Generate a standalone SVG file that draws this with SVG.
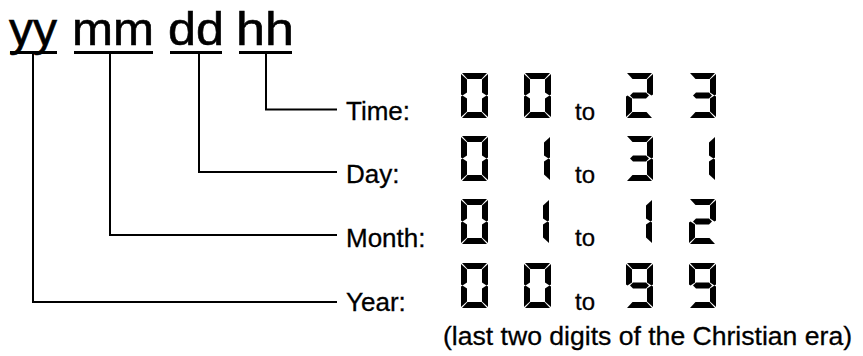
<svg xmlns="http://www.w3.org/2000/svg" width="863" height="356" viewBox="0 0 863 356">
<style>
.hdr{font-family:"Liberation Sans",Arial,sans-serif;font-size:47px;fill:#000;stroke:#000;stroke-width:0.6}
.lbl{font-family:"Liberation Sans",Arial,sans-serif;font-size:26px;fill:#000;stroke:#000;stroke-width:0.3}
.to{font-family:"Liberation Sans",Arial,sans-serif;font-size:24px;fill:#000;stroke:#000;stroke-width:0.3}
.note{font-family:"Liberation Sans",Arial,sans-serif;font-size:26.5px;fill:#000;stroke:#000;stroke-width:0.3}
.ul{stroke:#000;stroke-width:3;fill:none}
.conn{stroke:#000;stroke-width:2;fill:none}
.seg{fill:#000}
</style>
<defs>
<polygon id="sa" class="seg" points="1,0 26,0 20.5,6 6.5,6"/>
<polygon id="sb" class="seg" points="27,1 27,21.5 25.5,22.5 21,19.5 21,6.5"/>
<polygon id="sc" class="seg" points="27,23.5 27,44 21,38.5 21,25.5 25.5,22.5"/>
<polygon id="sd" class="seg" points="6.5,39 20.5,39 26,45 1,45"/>
<polygon id="se" class="seg" points="0,23.5 1.5,22.5 6,25.5 6,38.5 0,44"/>
<polygon id="sf" class="seg" points="0,1 6,6.5 6,19.5 1.5,22.5 0,21.5"/>
<polygon id="sg" class="seg" points="4,22.5 7,19.5 20,19.5 23,22.5 20,25.5 7,25.5"/>
<g id="d0"><use href="#sa"/><use href="#sb"/><use href="#sc"/><use href="#sd"/><use href="#se"/><use href="#sf"/></g>
<g id="d1"><use href="#sb"/><use href="#sc"/></g>
<g id="d2"><use href="#sa"/><use href="#sb"/><use href="#sg"/><use href="#se"/><use href="#sd"/></g>
<g id="d3"><use href="#sa"/><use href="#sb"/><use href="#sg"/><use href="#sc"/><use href="#sd"/></g>
<g id="d9"><use href="#sa"/><use href="#sb"/><use href="#sc"/><use href="#sd"/><use href="#sf"/><use href="#sg"/></g>
</defs>
<rect width="863" height="356" fill="#fff"/>

<g id="header">
<g id="node-yy"><text class="hdr" x="9" y="45" textLength="48" lengthAdjust="spacingAndGlyphs">yy</text><line class="ul" x1="10" y1="52.5" x2="57" y2="52.5"/></g>
<g id="node-mm"><text class="hdr" x="72" y="45" textLength="82" lengthAdjust="spacingAndGlyphs">mm</text><line class="ul" x1="74" y1="52.5" x2="153" y2="52.5"/></g>
<g id="node-dd"><text class="hdr" x="168" y="45" textLength="56" lengthAdjust="spacingAndGlyphs">dd</text><line class="ul" x1="170" y1="52.5" x2="222" y2="52.5"/></g>
<g id="node-hh"><text class="hdr" x="236" y="45" textLength="58" lengthAdjust="spacingAndGlyphs">hh</text><line class="ul" x1="239" y1="52.5" x2="292" y2="52.5"/></g>
</g>

<g id="connectors">
<polyline class="conn" points="266,54 266,109.5 337,109.5"/>
<polyline class="conn" points="199,54 199,172 337,172"/>
<polyline class="conn" points="110,54 110,235 337,235"/>
<polyline class="conn" points="33,54 33,302 337,302"/>
</g>

<g id="row-time">
<text class="lbl" x="346" y="120">Time:</text>
<use href="#d0" x="461" y="73"/><use href="#d0" x="524" y="73"/>
<text class="to" x="575" y="120">to</text>
<use href="#d2" x="626" y="73"/><use href="#d3" x="689" y="73"/>
</g>
<g id="row-day">
<text class="lbl" x="346" y="183">Day:</text>
<use href="#d0" x="461" y="136"/><use href="#d1" x="523" y="136"/>
<text class="to" x="575" y="183">to</text>
<use href="#d3" x="626" y="136"/><use href="#d1" x="688" y="136"/>
</g>
<g id="row-month">
<text class="lbl" x="346" y="247">Month:</text>
<use href="#d0" x="461" y="199"/><use href="#d1" x="522" y="199"/>
<text class="to" x="575" y="246">to</text>
<use href="#d1" x="625" y="199"/><use href="#d2" x="689" y="199"/>
</g>
<g id="row-year">
<text class="lbl" x="346" y="311">Year:</text>
<use href="#d0" x="461" y="263"/><use href="#d0" x="524" y="263"/>
<text class="to" x="575" y="310">to</text>
<use href="#d9" x="626" y="263"/><use href="#d9" x="689" y="263"/>
</g>

<g id="note">
<text class="note" x="443" y="345" textLength="409" lengthAdjust="spacingAndGlyphs">(last two digits of the Christian era)</text>
</g>
</svg>
